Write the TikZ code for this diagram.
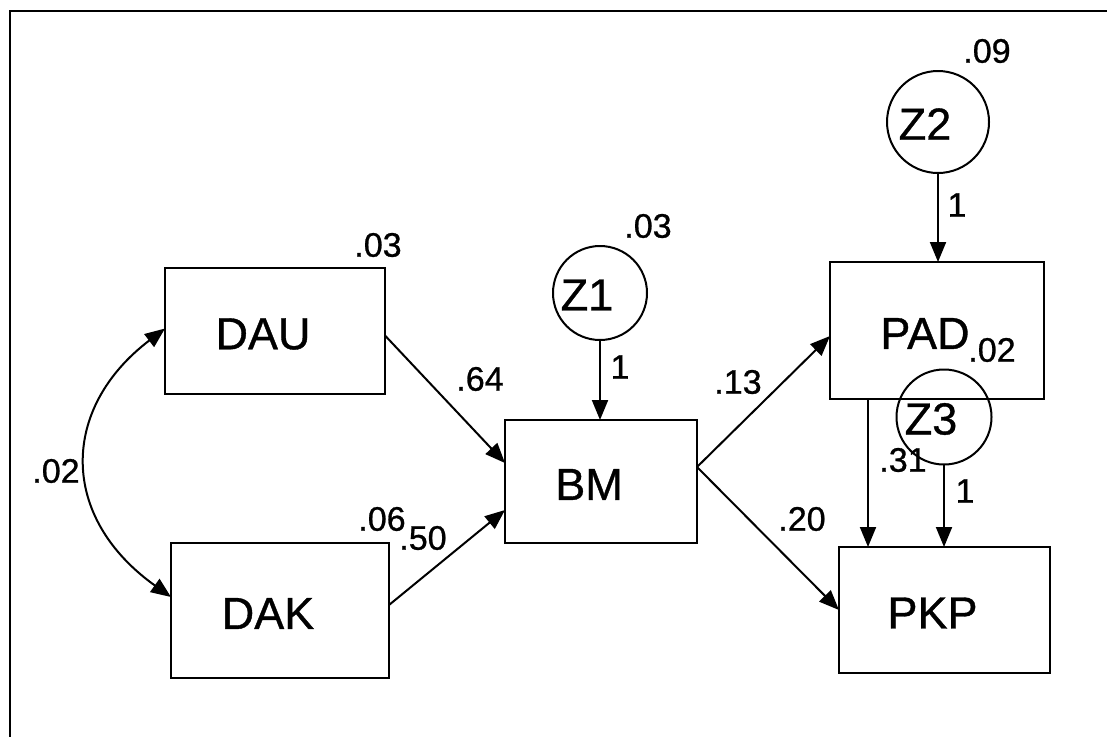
\documentclass[tikz,border=0pt]{standalone}
\usepackage{fontspec}
\setmainfont{Liberation Sans}[FakeBold=0.8]
\usetikzlibrary{arrows.meta}
\newcommand\dgbig{\fontsize{45}{54}\selectfont}
\newcommand\dgnum{\fontsize{34}{40}\selectfont}
\begin{document}
\begin{tikzpicture}[x=1pt,y=-1pt,
  every node/.style={inner sep=0pt, outer sep=0pt},
  lw/.style={line width=2pt},
  box/.style={draw, lw, rectangle},
  lat/.style={draw, lw, circle},
  btxt/.style={label={[font=\dgbig, xshift=-12pt, yshift=-3pt]center:#1}},
  ctxt/.style={label={[font=\dgbig, xshift=-13pt, yshift=-2pt]center:#1}},
  num/.style={font=\dgnum},
  arr/.style={lw, -{Triangle[length=20pt,width=16pt]}},
  darr/.style={lw, {Triangle[length=20pt,width=16pt]}-{Triangle[length=20pt,width=16pt]}}
]
\useasboundingbox (0,0) rectangle (1107,737);
\fill[white] (0,0) rectangle (1107,737);
% frame
\draw[line width=2.5pt] (1107,11) -- (10,11) -- (10,737);

% boxes
\node[box, minimum width=220pt, minimum height=126pt, btxt=DAU] (DAU) at (275,331) {};
\node[box, minimum width=218pt, minimum height=135pt, btxt=DAK] (DAK) at (280,610.5) {};
\node[box, minimum width=192pt, minimum height=123pt, btxt=BM] (BM) at (601,481.5) {};
\node[box, minimum width=214pt, minimum height=137pt, btxt=PAD] (PAD) at (937,330.5) {};
\node[box, minimum width=211pt, minimum height=126pt, btxt=PKP] (PKP) at (944.5,610) {};

% latent circles
\node[lat, minimum size=94pt, ctxt=Z1] (Z1) at (600,293) {};
\node[lat, minimum size=102pt, ctxt=Z2] (Z2) at (938,122) {};
\node[lat, minimum size=95pt, ctxt=Z3] (Z3) at (944,417) {};

% connectors
\draw[arr] (Z1.south) -- (Z1.south |- BM.north);
\draw[arr] (Z2.south) -- (Z2.south |- PAD.north);
\draw[arr] (Z3.south) -- (Z3.south |- PKP.north);
\draw[arr] ([xshift=-69pt]PAD.south) -- ([xshift=-69pt]PAD.south |- PKP.north);
\draw[arr] ([yshift=-4.5pt]DAU.east) -- ([yshift=18.5pt]BM.west);
\draw[arr] ([yshift=5.5pt]DAK.east) -- ([yshift=-28.5pt]BM.west);
\draw[arr] ([yshift=14.5pt]BM.east) -- ([yshift=-5.5pt]PAD.west);
\draw[arr] ([yshift=14.5pt]BM.east) -- (PKP.west);
\draw[darr] ([yshift=2.5pt]DAU.west) .. controls +(-105,80) and +(-112,-80) .. ([yshift=13.5pt]DAK.west);

% numbers
\node[num] (nDAU) at (378,245) {.03};
\node[num] (nZ1) at (648,226) {.03};
\node[num] (p64) at (480,379) {.64};
\node[num] (w1) at (620,367) {1};
\node[num] (nDAK) at (382,519) {.06};
\node[num] (p50) at (423,538) {.50};
\node[num] (c02) at (56,471) {.02};
\node[num] (p13) at (738,382) {.13};
\node[num] (p20) at (802,519) {.20};
\node[num] (nZ2) at (987,51) {.09};
\node[num] (w2) at (957,205) {1};
\node[num] (nPAD) at (992,350) {.02};
\node[num] (p31) at (903,460) {.31};
\node[num] (w3) at (965,491) {1};
\end{tikzpicture}
\end{document}
